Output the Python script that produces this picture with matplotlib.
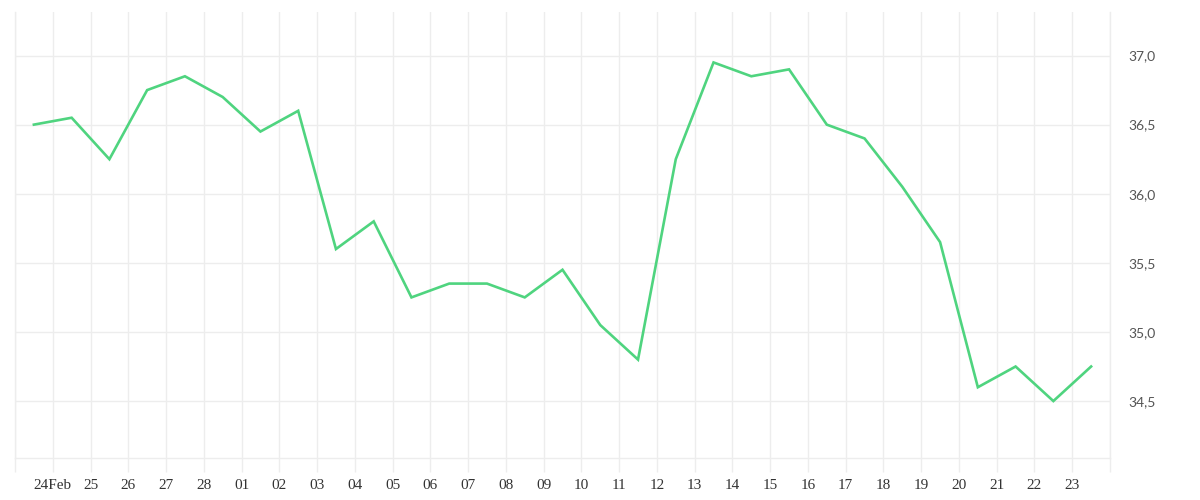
import matplotlib
matplotlib.use('Agg')
import matplotlib.pyplot as plt
from matplotlib.ticker import FuncFormatter

# one reading per day, 23 Feb .. 23 Mar
day_labels = ['', '24Feb', '25', '26', '27', '28', '01', '02', '03', '04', '05', '06', '07',
              '08', '09', '10', '11', '12', '13', '14', '15', '16', '17', '18', '19',
              '20', '21', '22', '23', '']
values = [36.5, 36.55, 36.25, 36.75, 36.85, 36.7, 36.45, 36.6, 35.6, 35.8, 35.25, 35.35,
          35.35, 35.25, 35.45, 35.05, 34.8, 36.25, 36.95, 36.85, 36.9, 36.5, 36.4, 36.05,
          35.65, 34.6, 34.75, 34.5, 34.75]
y_ticks = [34.5, 35.0, 35.5, 36.0, 36.5, 37.0]

grid_col = '#ededed'
line_col = '#4fd47f'

fig = plt.figure(figsize=(12, 5), dpi=100)
ax = fig.add_axes([0.0125, 0.084, 0.9125, 0.892])

xs = [i + 0.5 for i in range(len(values))]  # points sit at midday
ax.plot(xs, values, color=line_col, linewidth=1.9, solid_joinstyle='miter')

ax.set_xlim(0, len(values))
ax.set_ylim(34.088, 37.315)

ax.set_xticks(range(len(day_labels)))
ax.set_xticklabels(day_labels, family='Liberation Serif', fontsize=11, color='#333333')
ax.set_yticks(y_ticks)
ax.yaxis.set_major_formatter(FuncFormatter(lambda v, p: ('%.1f' % v).replace('.', ',')))
ax.yaxis.tick_right()
for t in ax.get_yticklabels():
    t.set_family('Lato')
    t.set_fontsize(10)
    t.set_color('#555555')

ax.tick_params(axis='x', length=10, width=1, color=grid_col, pad=5)
ax.tick_params(axis='y', length=0, pad=13)

ax.grid(True, color=grid_col, linewidth=1)
ax.set_axisbelow(True)
ax.spines['top'].set_visible(False)
for s in ['left', 'right', 'bottom']:
    ax.spines[s].set_color(grid_col)
    ax.spines[s].set_linewidth(1)

fig.savefig('out.png', dpi=100, facecolor='white')
